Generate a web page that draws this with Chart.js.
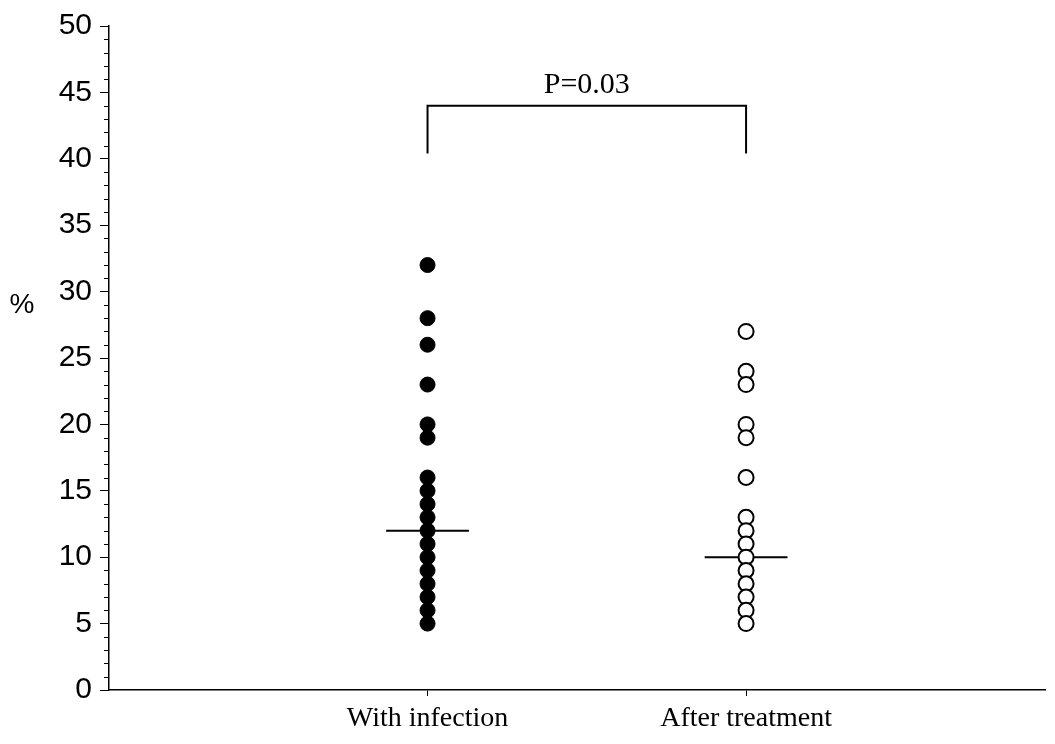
<!DOCTYPE html>
<html>
<head>
<meta charset="utf-8">
<script src="https://cdn.jsdelivr.net/npm/chart.js@4.4.0/dist/chart.umd.min.js"></script>
<style>
  html, body { margin: 0; padding: 0; background: #fff; }
  #wrap { width: 1055px; height: 744px; }
</style>
</head>
<body>
<div id="wrap"><canvas id="chart" width="1055" height="744"></canvas></div>
<script>
const GROUPS = ["With infection", "After treatment"];
const WITH_INFECTION = [32, 28, 26, 23, 20, 19, 16, 15, 14, 13, 12, 11, 10, 9, 8, 7, 6, 5];
const AFTER_TREATMENT = [27, 24, 23, 20, 19, 16, 13, 12, 11, 10, 9, 8, 7, 6, 5];
const MEDIANS = [12, 10];
const BRACKET = [40.4, 44];
const P_LABEL = "P=0.03";
const Y_MIN = 0;
const Y_MAX = 50;

const SERIF = "'Liberation Serif', 'Times New Roman', serif";
const SANS = "'Liberation Sans', Arial, sans-serif";

const pts = (x, arr) => arr.map((v) => ({ x: x, y: v }));

const medianLine = (i) => [
  { x: i + 1 - 0.13, y: MEDIANS[i] },
  { x: i + 1 + 0.13, y: MEDIANS[i] },
];

// little helper plugin: minor y ticks, "%" label and the P value
const extras = {
  id: "extras",
  afterDraw(chart) {
    const ctx = chart.ctx;
    const x = chart.scales.x;
    const y = chart.scales.y;
    ctx.save();
    ctx.strokeStyle = "#000";
    ctx.lineWidth = 1;
    for (let v = Y_MIN; v <= Y_MAX; v++) {
      if (v % 5 === 0) continue;
      const py = Math.round(y.getPixelForValue(v)) + 0.5;
      ctx.beginPath();
      ctx.moveTo(x.left - 5, py);
      ctx.lineTo(x.left, py);
      ctx.stroke();
    }
    ctx.fillStyle = "#000";
    ctx.font = "28px " + SANS;
    ctx.textAlign = "center";
    ctx.textBaseline = "middle";
    ctx.fillText("%", 22, y.getPixelForValue(29));

    ctx.font = "30px " + SERIF;
    ctx.textBaseline = "bottom";
    const cx = (x.getPixelForValue(1) + x.getPixelForValue(2)) / 2;
    ctx.fillText(P_LABEL, cx, y.getPixelForValue(BRACKET[1]) - 6);
    ctx.restore();
  },
};

new Chart(document.getElementById("chart"), {
  type: "scatter",
  data: {
    datasets: [
      {
        label: GROUPS[0],
        data: pts(1, WITH_INFECTION),
        pointRadius: 7.5,
        pointBackgroundColor: "#000",
        pointBorderColor: "#000",
        pointBorderWidth: 1,
      },
      {
        label: GROUPS[1],
        data: pts(2, AFTER_TREATMENT),
        pointRadius: 7.5,
        pointBackgroundColor: "#fff",
        pointBorderColor: "#000",
        pointBorderWidth: 2,
      },
      {
        label: "median 1",
        type: "line",
        data: medianLine(0),
        borderColor: "#000",
        borderWidth: 2,
        pointRadius: 0,
      },
      {
        label: "median 2",
        type: "line",
        data: medianLine(1),
        borderColor: "#000",
        borderWidth: 2,
        pointRadius: 0,
      },
      {
        label: "bracket",
        type: "line",
        data: [
          { x: 1, y: BRACKET[0] },
          { x: 1, y: BRACKET[1] },
          { x: 2, y: BRACKET[1] },
          { x: 2, y: BRACKET[0] },
        ],
        borderColor: "#000",
        borderWidth: 2,
        pointRadius: 0,
        tension: 0,
      },
    ],
  },
  options: {
    responsive: false,
    animation: false,
    devicePixelRatio: 1,
    layout: {
      padding: { top: 14, right: 5, left: 0, bottom: 0 },
    },
    plugins: {
      legend: { display: false },
      tooltip: { enabled: false },
    },
    scales: {
      x: {
        type: "linear",
        min: 0,
        max: 2.94,
        afterBuildTicks: (scale) => {
          scale.ticks = [{ value: 1 }, { value: 2 }];
        },
        afterFit: (scale) => {
          scale.height = 54;
        },
        border: { color: "#000", width: 1.5 },
        grid: {
          drawOnChartArea: false,
          color: "#000",
          tickLength: 6,
        },
        ticks: {
          color: "#000",
          padding: 6,
          maxRotation: 0,
          font: { family: SERIF, size: 28 },
          callback: (v) => GROUPS[v - 1] || "",
        },
      },
      y: {
        min: Y_MIN,
        max: Y_MAX,
        afterFit: (scale) => {
          scale.width = 109;
        },
        border: { color: "#000", width: 1.5 },
        grid: {
          drawOnChartArea: false,
          color: "#000",
          tickLength: 9,
        },
        ticks: {
          stepSize: 5,
          color: "#000",
          padding: 8,
          autoSkip: false,
          font: { family: SANS, size: 30 },
        },
      },
    },
  },
  plugins: [extras],
});
</script>
</body>
</html>
